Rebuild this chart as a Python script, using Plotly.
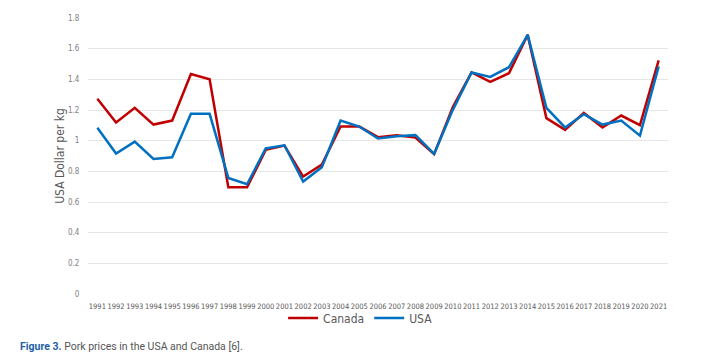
import plotly.graph_objects as go

years = [str(y) for y in range(1991, 2022)]
canada = [1.273, 1.118, 1.214, 1.105, 1.131, 1.434, 1.401, 0.696, 0.696, 0.940,
          0.968, 0.766, 0.844, 1.092, 1.092, 1.023, 1.036, 1.020, 0.912, 1.219,
          1.445, 1.384, 1.440, 1.690, 1.147, 1.070, 1.181, 1.086, 1.164, 1.101, 1.523]
usa = [1.084, 0.916, 0.994, 0.881, 0.892, 1.175, 1.175, 0.757, 0.716, 0.949,
       0.970, 0.733, 0.827, 1.131, 1.092, 1.014, 1.029, 1.036, 0.914, 1.201,
       1.445, 1.416, 1.479, 1.690, 1.214, 1.086, 1.173, 1.105, 1.131, 1.033, 1.484]
y_ticks = [0, 0.2, 0.4, 0.6, 0.8, 1, 1.2, 1.4, 1.6, 1.8]
y_tick_text = ["0", "0.2", "0.4", "0.6", "0.8", "1", "1.2", "1.4", "1.6", "1.8"]

cond = "DejaVu Sans Condensed, Liberation Sans Narrow, Arial"

fig = go.Figure()
fig.add_trace(go.Scatter(x=years, y=canada, mode="lines", name="Canada",
                         line=dict(color="#C00000", width=2.5)))
fig.add_trace(go.Scatter(x=years, y=usa, mode="lines", name="USA",
                         line=dict(color="#0070C0", width=2.5)))

fig.update_layout(
    width=698, height=353,
    margin=dict(l=80, r=38, t=10, b=67),
    paper_bgcolor="white", plot_bgcolor="white",
    font=dict(family=cond, color="#595959"),
    showlegend=True,
    legend=dict(orientation="h", x=0.47, xanchor="center", y=-0.087, yanchor="middle",
                font=dict(size=12, color="#595959", family=cond), itemwidth=30,
                bgcolor="rgba(0,0,0,0)"),
    xaxis=dict(type="category", range=[-0.5, 30.5], showgrid=False, showline=False,
               zeroline=False, tickfont=dict(size=7.5, color="#595959", family=cond),
               tickangle=0, ticks="outside", ticklen=5, tickcolor="rgba(0,0,0,0)",
               automargin=False),
    yaxis=dict(range=[0, 1.8], tickvals=y_ticks, ticktext=y_tick_text,
               showgrid=True, gridcolor="#E6E6E6", gridwidth=1, zeroline=False,
               showline=False, tickfont=dict(size=8, color="#7F7F7F", family=cond),
               ticks="outside", ticklen=6, tickcolor="rgba(0,0,0,0)",
               automargin=False,
               title=dict(text="USA Dollar per kg", font=dict(size=12, color="#595959", family=cond),
                          standoff=0)),
    annotations=[
        dict(xref="paper", yref="paper", x=-0.1207, y=-0.192, xanchor="left",
             yanchor="middle", showarrow=False,
             text="<b><span style='color:#1F5FA8'>Figure 3.</span></b> Pork prices in the USA and Canada [6].",
             font=dict(family="Roboto, Liberation Sans", size=10.5, color="#555555"))
    ],
)

fig.write_html("out.html")
